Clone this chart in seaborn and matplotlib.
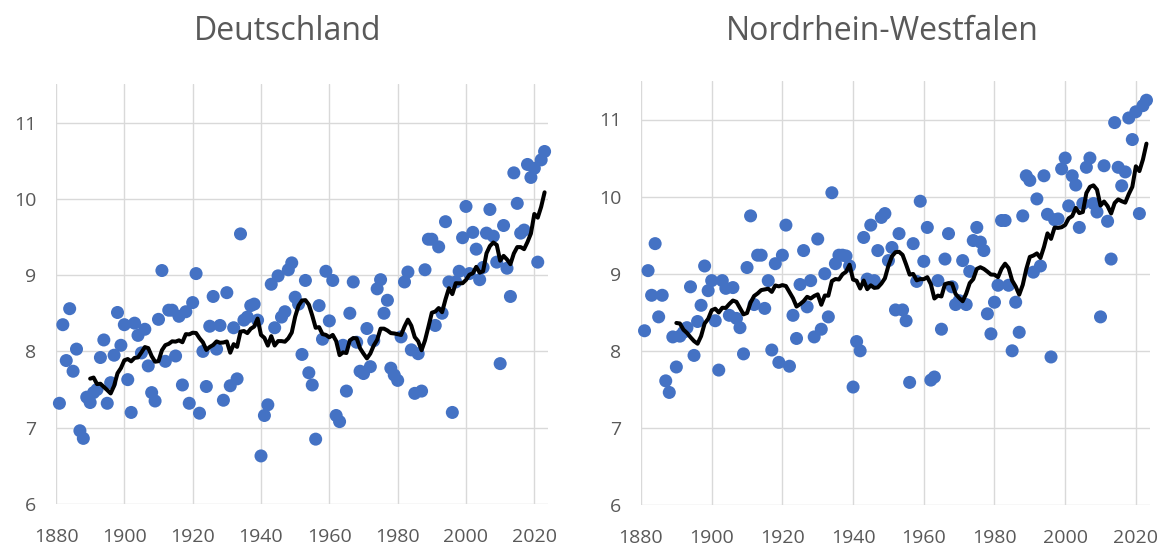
import matplotlib
matplotlib.use("Agg")
import matplotlib.pyplot as plt
import seaborn as sns
import pandas as pd

years = list(range(1881, 2024))

de_temp = [
    7.32, 8.35, 7.88, 8.56, 7.74, 8.03, 6.96, 6.86, 7.40, 7.33,
    7.46, 7.50, 7.92, 8.15, 7.32, 7.59, 7.95, 8.51, 8.08, 8.35,
    7.63, 7.20, 8.37, 8.21, 7.98, 8.29, 7.81, 7.46, 7.35, 8.42,
    9.06, 7.87, 8.54, 8.54, 7.94, 8.46, 7.56, 8.52, 7.32, 8.64,
    9.02, 7.19, 8.00, 7.54, 8.33, 8.72, 8.03, 8.34, 7.36, 8.77,
    7.55, 8.31, 7.64, 9.54, 8.41, 8.45, 8.60, 8.62, 8.41, 6.63,
    7.16, 7.30, 8.88, 8.31, 8.99, 8.45, 8.52, 9.07, 9.16, 8.71,
    8.62, 7.96, 8.93, 7.72, 7.56, 6.85, 8.60, 8.16, 9.05, 8.40,
    8.93, 7.16, 7.08, 8.08, 7.48, 8.50, 8.91, 8.12, 7.74, 7.71,
    8.30, 7.80, 8.14, 8.82, 8.94, 8.50, 8.67, 7.78, 7.69, 7.62,
    8.19, 8.91, 9.04, 8.02, 7.45, 7.97, 7.48, 9.07, 9.47, 9.47,
    8.34, 9.37, 8.50, 9.70, 8.91, 7.20, 8.91, 9.05, 9.49, 9.90,
    9.02, 9.56, 9.34, 8.94, 9.10, 9.55, 9.86, 9.51, 9.17, 7.84,
    9.65, 9.09, 8.72, 10.34, 9.94, 9.55, 9.59, 10.45, 10.28, 10.40,
    9.17, 10.51, 10.62,
]

nrw_temp = [
    8.26, 9.04, 8.72, 9.39, 8.44, 8.72, 7.61, 7.46, 8.18, 7.79,
    8.19, 8.24, 8.30, 8.83, 7.94, 8.38, 8.59, 9.10, 8.78, 8.91,
    8.39, 7.75, 8.91, 8.81, 8.46, 8.82, 8.42, 8.30, 7.96, 9.08,
    9.75, 8.60, 9.24, 9.24, 8.55, 8.91, 8.01, 9.13, 7.85, 9.24,
    9.63, 7.80, 8.46, 8.16, 8.86, 9.30, 8.57, 8.91, 8.18, 9.45,
    8.28, 9.00, 8.44, 10.05, 9.13, 9.24, 9.24, 9.23, 9.10, 7.53,
    8.12, 8.00, 9.47, 8.93, 9.63, 8.91, 9.30, 9.73, 9.78, 9.17,
    9.34, 8.53, 9.52, 8.53, 8.39, 7.59, 9.39, 8.90, 9.94, 9.16,
    9.60, 7.62, 7.66, 8.91, 8.28, 9.19, 9.52, 8.83, 8.60, 8.65,
    9.17, 8.60, 9.03, 9.43, 9.60, 9.41, 9.30, 8.48, 8.22, 8.63,
    8.85, 9.69, 9.69, 8.85, 8.00, 8.63, 8.24, 9.75, 10.27, 10.21,
    9.02, 9.97, 9.10, 10.27, 9.77, 7.92, 9.70, 9.71, 10.36, 10.50,
    9.88, 10.27, 10.15, 9.60, 9.91, 10.38, 10.50, 9.91, 9.80, 8.44,
    10.40, 9.68, 9.19, 10.96, 10.38, 10.14, 10.32, 11.02, 10.74, 11.10,
    9.78, 11.18, 11.25,
]

titles = ["Deutschland", "Nordrhein-Westfalen"]
x_ticks = [1880, 1900, 1920, 1940, 1960, 1980, 2000, 2020]
y_ticks = [6, 7, 8, 9, 10, 11]
window = 10

sns.set_theme(style="white")
plt.rcParams["font.family"] = ["Open Sans", "DejaVu Sans"]

W, H = 1165, 547
fig = plt.figure(figsize=(W / 100, H / 100), dpi=100)

panels = [
    (de_temp, (56, 548), 504, 76.3, titles[0], 288),
    (nrw_temp, (641, 1150), 505, 77.1, titles[1], 882),
]
blue = "#4472C4"
grey = "#595959"
grid = "#D9D9D9"

for temps, (xl, xr), ybot, pxdeg, title, tx in panels:
    ytop_val = 11.5
    ytop = ybot - (ytop_val - 6) * pxdeg
    ax = fig.add_axes([xl / W, 1 - ybot / H, (xr - xl) / W, (ybot - ytop) / H])
    df = pd.DataFrame({"year": years, "temp": temps})
    df["ma"] = df["temp"].rolling(window).mean()
    sns.scatterplot(data=df, x="year", y="temp", ax=ax, s=88, color=blue,
                    edgecolor="none", linewidth=0, zorder=3, clip_on=False)
    sns.lineplot(data=df.dropna(), x="year", y="ma", ax=ax, color="black",
                 linewidth=2.9, zorder=4)
    ax.set_xlim(1880, 2024)
    ax.set_ylim(6, ytop_val)
    ax.set_xticks(x_ticks)
    ax.set_yticks(y_ticks)
    ax.grid(True, color=grid, linewidth=1.0, zorder=0)
    ax.set_axisbelow(True)
    for s in ax.spines.values():
        s.set_visible(False)
    ax.tick_params(axis="both", length=0, labelsize=14, labelcolor=grey)
    ax.tick_params(axis="x", pad=17)
    ax.tick_params(axis="y", pad=14)
    ax.set_xlabel("")
    ax.set_ylabel("")
    fig.text(tx / W, 1 - 31 / H, title, ha="center", va="center",
             fontsize=23, color=grey)

fig.savefig("out.png", dpi=100)
